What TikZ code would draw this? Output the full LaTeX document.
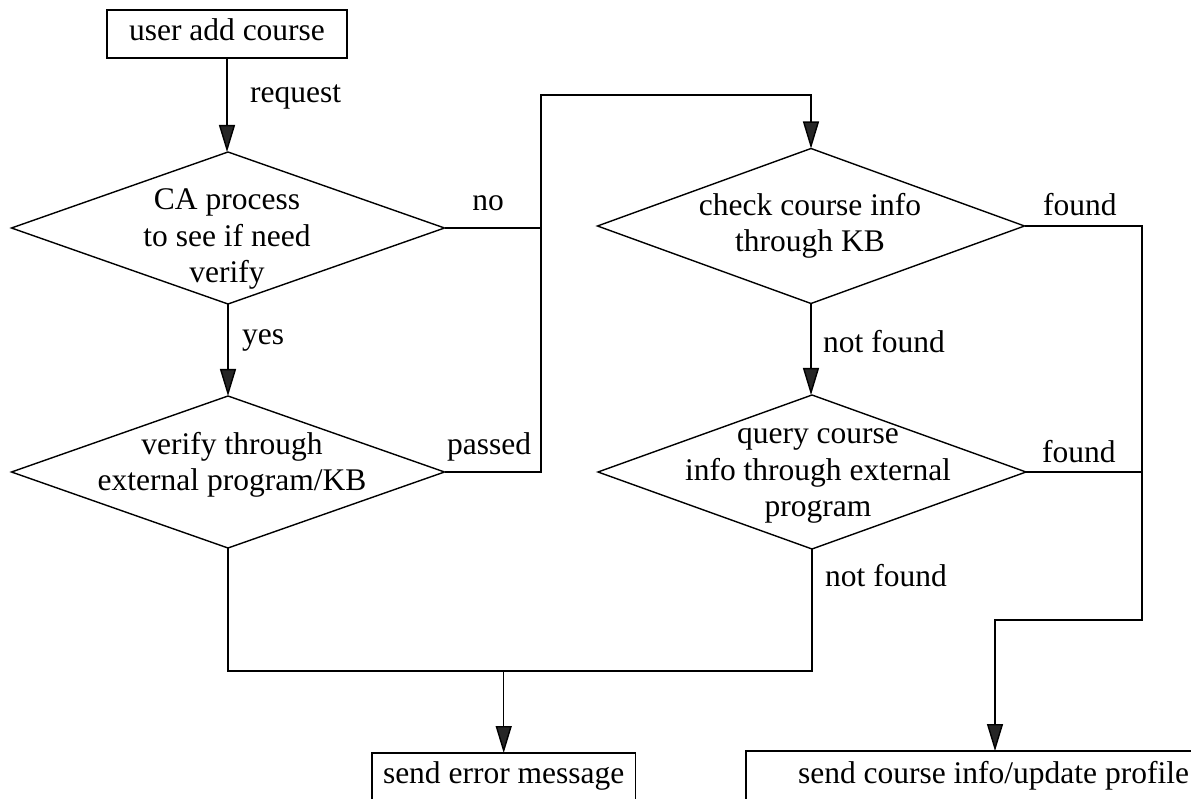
\documentclass[tikz,border=0pt]{standalone}
\usepackage{fontspec}
\setmainfont{Liberation Serif}
\usetikzlibrary{shapes.geometric,arrows.meta}

\tikzset{
  base/.style={font=\fontsize{31.5}{36.5}\selectfont},
  stepbox/.style={base, draw, line width=1.4pt, inner ysep=0pt, outer sep=0pt},
  decision/.style={diamond, draw, line width=1.4pt, inner sep=0pt, outer sep=0pt},
  inner/.style={base, align=center, inner sep=0pt},
  tag/.style={base, inner sep=0pt},
  wire/.style={line width=1.4pt},
  arr/.style={wire, -{Triangle[length=27pt,width=16pt,fill=black!85]}},
}

\begin{document}
\begin{tikzpicture}[x=1pt, y=-1pt]
  \useasboundingbox (0,0) rectangle (1191,799);
  \clip (0,0) rectangle (1191,799);

  % start box
  \node[stepbox, inner xsep=22pt, minimum height=48pt, text height=22pt, text depth=8pt,
        anchor=north] (start) at (227,10) {user add course};

  % decisions
  \node[decision, minimum width=433pt, minimum height=152pt] (d1) at (228,228) {};
  \node[inner] (d1t) at (227,239) {CA process\\to see if need\\verify};

  \node[decision, minimum width=433pt, minimum height=152pt] (d2) at (228,472) {};
  \node[inner] (d2t) at (232,465) {verify through\\external program/KB};

  \node[decision, minimum width=427pt, minimum height=155pt] (d3) at (811,226) {};
  \node[inner] (d3t) at (810,226) {check course info\\through KB};

  \node[decision, minimum width=428pt, minimum height=154pt] (d4) at (812,472) {};
  \node[inner] (d4t) at (818,476) {query course\\info through external\\program};

  % result boxes (bottom edges run past the page)
  \node[stepbox, inner xsep=11pt, text height=30pt, text depth=60pt, anchor=north west]
        (err) at (372,753) {send error message};
  \node[stepbox, inner xsep=52pt, text height=32pt, text depth=60pt, anchor=north west]
        (ok) at (746,751) {send course info/update profile};

  % routing points
  \coordinate (up) at (541,95);
  \coordinate (rt) at (1142,620);
  \coordinate (rt2) at (995,620);
  \coordinate (low) at (502,671);

  % connectors
  \draw[arr] (start.south) -- (start.south |- d1.north);
  \draw[arr] (d1.south) -- (d2.north);
  \draw[wire] (d1.east) -- (d1.east -| up);
  \draw[arr] (d2.east) -| (up) -| (d3.north);
  \draw[arr] (d3.south) -- (d3.south |- d4.north);
  \draw[wire] (d4.east) -- (d4.east -| rt);
  \draw[arr] (d3.east) -| (rt) -- (rt2) -- (rt2 |- ok.north);
  \draw[wire] (d2.south) |- (d4.south |- low) -- (d4.south);
  \draw[arr] (err.north |- low) -- (err.north);

  % connector labels
  \node[tag, anchor=west] (lreq) at (250,97) {request};
  \node[tag, anchor=west] (lyes) at (242,340) {yes};
  \node[tag] (lno) at (488,203) {no};
  \node[tag, anchor=west] (lpass) at (447,447) {passed};
  \node[tag, anchor=west] (lf1) at (1043,205) {found};
  \node[tag, anchor=west] (lf2) at (1042,452) {found};
  \node[tag, anchor=west] (lnf1) at (823,342) {not found};
  \node[tag, anchor=west] (lnf2) at (825,576) {not found};
\end{tikzpicture}
\end{document}
